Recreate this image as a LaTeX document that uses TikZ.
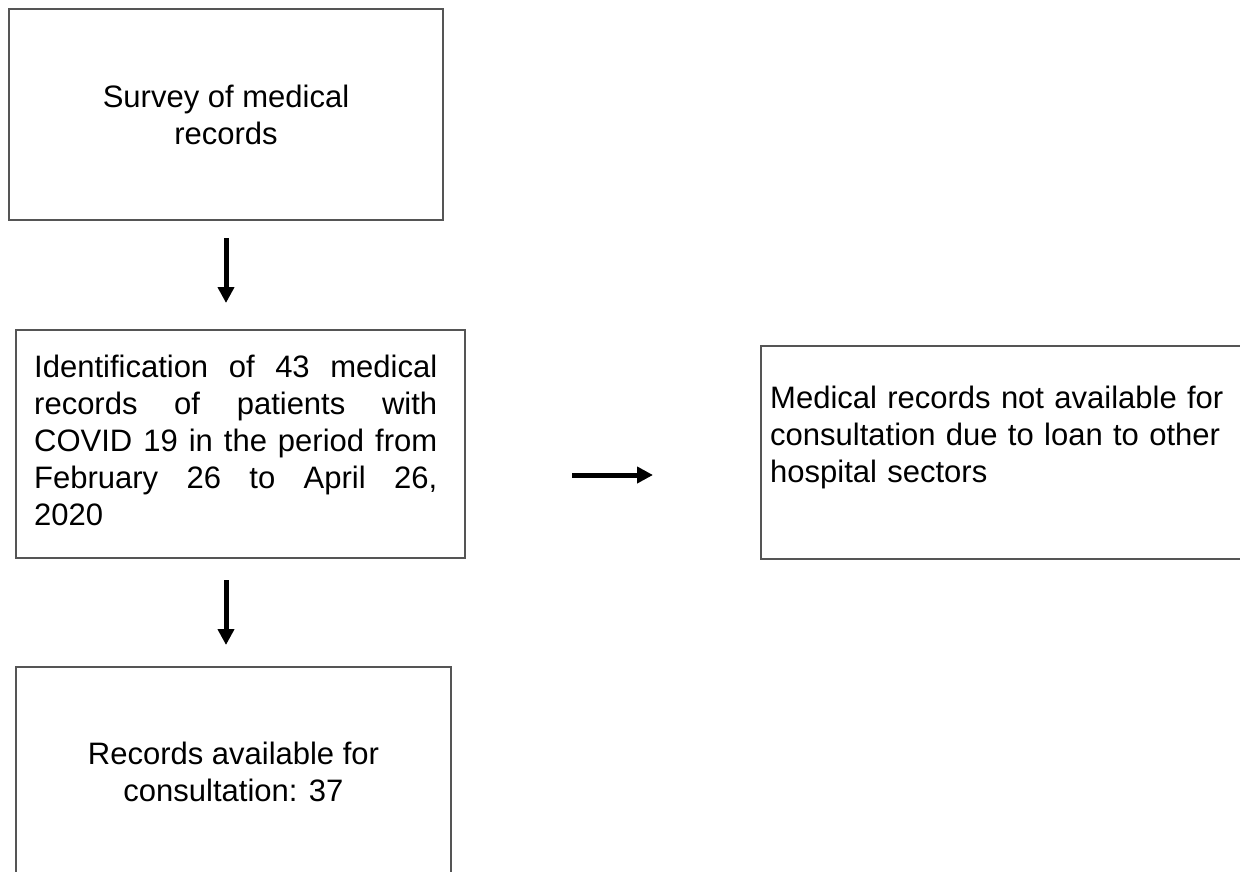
\documentclass[tikz,border=0pt]{standalone}
\usepackage{fontspec}
\setmainfont{Liberation Sans}
\usetikzlibrary{arrows.meta}
\definecolor{boxgray}{RGB}{85,85,85}
\tolerance=10000
\hyphenpenalty=10000
\begin{document}
\begin{tikzpicture}[x=1pt,y=-1pt,
  box/.style={draw=boxgray, line width=2pt, rectangle, inner sep=0pt},
  txt/.style={font=\fontsize{31}{37}\selectfont, inner sep=0pt, text=black},
  arr/.style={line width=5pt, -{Triangle[width=16pt,length=16pt]}}]
\useasboundingbox (0,0) rectangle (1240,872);
\clip (0,0) rectangle (1240,872);
\fill[white] (0,0) rectangle (1240,872);

% boxes
\node[box, minimum width=434pt, minimum height=211pt] (b1) at (226,114.5) {};
\node[box, minimum width=449pt, minimum height=228pt] (b2) at (240.5,444) {};
\node[box, minimum width=435pt, minimum height=209pt] (b3) at (233.5,771.5) {};
\node[box, minimum width=489pt, minimum height=213pt] (b4) at (1005.5,452.5) {};

% texts
\node[txt, align=center] (t1) at (b1.center) {Survey of medical\\records};
\node[txt, anchor=north west, text width=403pt, align=justify] (t2) at (34,354.4)
  {Identification of 43 medical\linebreak records of patients with\linebreak COVID 19 in the period from\linebreak February 26 to April 26,\linebreak 2020};
\node[txt, align=center] (t3) at (b3.center) {Records available for\\consultation: 37};
\node[txt, anchor=north west, text width=460pt, align=left] (t4) at (770,385.4)
  {Medical records not available for\\consultation due to loan to other\\hospital sectors};

% arrows
\coordinate (a1s) at (226,238);
\coordinate (a1e) at (226,303);
\coordinate (a2s) at (226,580);
\coordinate (a2e) at (226,645);
\coordinate (a3s) at (572,475);
\coordinate (a3e) at (653,475);
\draw[arr] (a1s) -- (a1e);
\draw[arr] (a2s) -- (a2e);
\draw[arr] (a3s) -- (a3e);
\end{tikzpicture}
\end{document}
